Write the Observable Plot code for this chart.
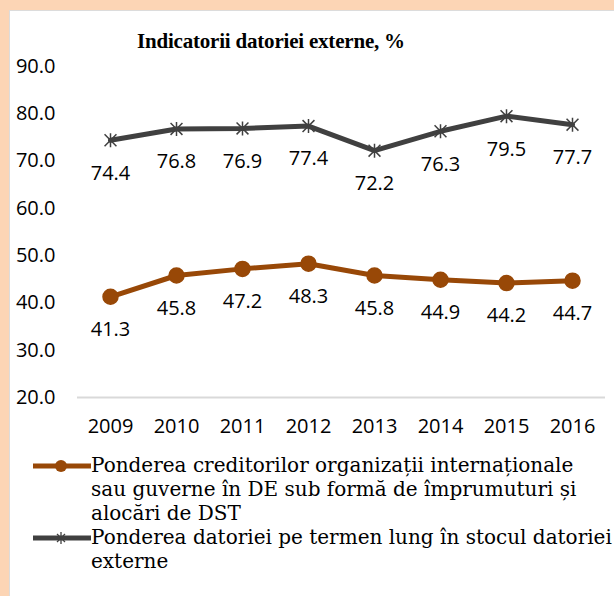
<!DOCTYPE html>
<html><head><meta charset="utf-8">
<script src="https://cdn.jsdelivr.net/npm/d3@7"></script>
<script src="https://cdn.jsdelivr.net/npm/@observablehq/plot@0.6"></script>
<style>
html,body{margin:0;padding:0;}
body{width:614px;height:596px;background:#fcd5b5;position:relative;overflow:hidden;}
#panel{position:absolute;left:9px;top:10px;right:0;bottom:0;background:#fff;border-left:1px solid #dcdcdc;border-top:1px solid #dcdcdc;}
#title{position:absolute;left:137px;top:29px;white-space:nowrap;font:bold 21px "Liberation Serif",serif;letter-spacing:-0.2px;color:#000;}
#chart{position:absolute;left:0;top:0;}
#legend{position:absolute;left:33px;top:453px;font:20px/24px "DejaVu Serif",serif;color:#000;}
.item{display:flex;align-items:flex-start;}
.item svg{flex:none;margin-top:1px;}
.item span{white-space:nowrap;}
</style></head>
<body>
<div id="panel"></div>
<div id="chart"></div>
<div id="title">Indicatorii datoriei externe, %</div>
<div id="legend"></div>
<script>
const years = [2009, 2010, 2011, 2012, 2013, 2014, 2015, 2016];
const creditori = [41.3, 45.8, 47.2, 48.3, 45.8, 44.9, 44.2, 44.7];
const termenLung = [74.4, 76.8, 76.9, 77.4, 72.2, 76.3, 79.5, 77.7];
const yTicks = [20, 30, 40, 50, 60, 70, 80, 90];
const seriesNames = [
  "Ponderea creditorilor organizații internaționale<br>sau guverne în DE sub formă de împrumuturi și<br>alocări de DST",
  "Ponderea datoriei pe termen lung în stocul datoriei<br>externe"
];
const colA = "#984807", colB = "#404040";

const data = years.map((y, i) => ({year: y, a: creditori[i], b: termenLung[i]}));

const star = {
  draw(ctx, size) {
    const r = Math.sqrt(size / Math.PI);
    const d = r * 0.85;
    ctx.moveTo(-d, -d); ctx.lineTo(d, d);
    ctx.moveTo(d, -d); ctx.lineTo(-d, d);
    ctx.moveTo(0, -r); ctx.lineTo(0, r);
  }
};

const chart = Plot.plot({
  width: 614, height: 440,
  marginLeft: 77, marginRight: 9, marginTop: 66, marginBottom: 43,
  x: {type: "point", domain: years, padding: 0.5, label: null},
  y: {domain: [20, 90], label: null},
  style: {fontFamily: "'Open Sans', sans-serif", fontSize: "20px", color: "#000", background: "transparent", overflow: "visible"},
  marks: [
    Plot.axisY({ticks: yTicks, tickSize: 0, tickPadding: 22, tickFormat: d => d.toFixed(1), fill: "#000", label: null}),
    Plot.axisX({tickSize: 0, tickPadding: 21, tickFormat: d => String(d), fill: "#000", label: null}),
    Plot.ruleY([20], {stroke: "#d9d9d9", strokeWidth: 2}),
    Plot.line(data, {x: "year", y: "b", stroke: colB, strokeWidth: 5}),
    Plot.dot(data, {x: "year", y: "b", symbol: star, r: 7, stroke: colB, strokeWidth: 1.5, fill: "none"}),
    Plot.line(data, {x: "year", y: "a", stroke: colA, strokeWidth: 5}),
    Plot.dot(data, {x: "year", y: "a", r: 7.5, fill: colA, stroke: colA}),
    Plot.text(data, {x: "year", y: "b", text: d => d.b.toFixed(1), dy: 33, fill: "#000", fontSize: 20}),
    Plot.text(data, {x: "year", y: "a", text: d => d.a.toFixed(1), dy: 33, fill: "#000", fontSize: 20})
  ]
});
document.getElementById("chart").appendChild(chart);

const legend = document.getElementById("legend");
const markers = [
  `<svg width="58" height="24"><line x1="0" y1="12" x2="58" y2="12" stroke="${colA}" stroke-width="5"/><circle cx="28" cy="12" r="6" fill="${colA}"/></svg>`,
  `<svg width="58" height="24"><line x1="0" y1="12" x2="58" y2="12" stroke="${colB}" stroke-width="5"/><path d="M24,8L32,16M32,8L24,16M28,6L28,18" stroke="${colB}" stroke-width="1.3" fill="none"/></svg>`
];
seriesNames.forEach((name, i) => {
  const div = document.createElement("div");
  div.className = "item";
  div.innerHTML = markers[i] + `<span>${name}</span>`;
  legend.appendChild(div);
});
</script>
</body></html>
